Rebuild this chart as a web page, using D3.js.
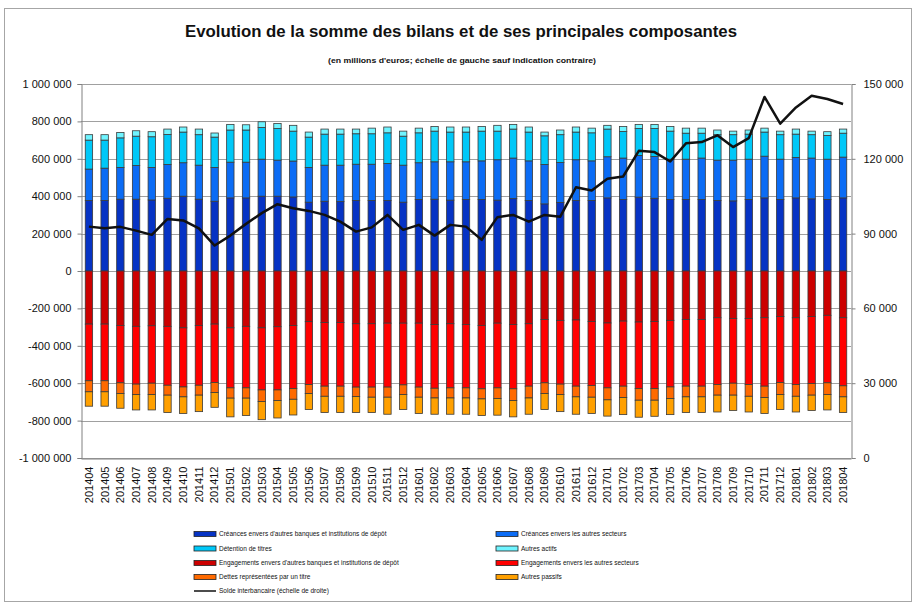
<!DOCTYPE html>
<html>
<head>
<meta charset="utf-8">
<script src="https://cdn.jsdelivr.net/npm/d3@7"></script>
<style>
  body { margin: 0; background: #fff; }
  svg text { font-family: "Liberation Sans", Arial, sans-serif; fill: #111; }
</style>
</head>
<body>
<div id="chart"></div>
<script>
// months 2014-04 .. 2018-04
var months = ["201404","201405","201406","201407","201408","201409","201410","201411","201412",
  "201501","201502","201503","201504","201505","201506","201507","201508","201509","201510","201511","201512",
  "201601","201602","201603","201604","201605","201606","201607","201608","201609","201610","201611","201612",
  "201701","201702","201703","201704","201705","201706","201707","201708","201709","201710","201711","201712",
  "201801","201802","201803","201804"];

// actifs (millions d'euros)
var creancesBanques = [377000,377000,384000,384000,380000,389000,400000,384000,373000,391000,391000,400000,400000,396000,368000,373000,371000,377000,377000,377000,368000,382000,384000,379000,382000,382000,379000,387000,377000,359000,366000,377000,377000,391000,382000,395000,389000,382000,382000,382000,377000,375000,382000,391000,382000,391000,386000,382000,391000];
var creancesSecteurs = [168000,173000,170000,180000,174000,181000,179000,182000,181000,191000,191000,198000,193000,192000,186000,193000,195000,194000,194000,198000,198000,197000,200000,205000,202000,207000,216000,217000,212000,211000,214000,218000,212000,220000,222000,223000,223000,216000,216000,222000,216000,218000,216000,223000,216000,216000,218000,216000,218000];
var detentionTitres = [155000,150000,158000,157000,164000,160000,164000,163000,162000,172000,172000,170000,169000,160000,162000,166000,166000,163000,163000,164000,155000,160000,164000,159000,159000,159000,153000,155000,154000,153000,149000,148000,150000,148000,142000,144000,150000,150000,139000,133000,136000,136000,134000,129000,131000,125000,125000,127000,128000];
var autresActifs = [29000,29000,29000,29000,27000,29000,27000,30000,22000,30000,28000,30000,27000,31000,27000,27000,27000,25000,30000,31000,27000,25000,25000,27000,27000,25000,31000,25000,27000,20000,25000,27000,25000,20000,27000,22000,22000,25000,27000,27000,25000,19000,22000,21000,19000,27000,19000,20000,22000];

// passifs (négatifs)
var engagementsBanques = [-284000,-284000,-291000,-296000,-293000,-296000,-304000,-291000,-284000,-304000,-296000,-304000,-298000,-291000,-271000,-275000,-275000,-282000,-282000,-279000,-279000,-279000,-286000,-282000,-286000,-291000,-279000,-286000,-282000,-259000,-264000,-262000,-270000,-278000,-268000,-273000,-270000,-264000,-259000,-259000,-250000,-254000,-254000,-250000,-243000,-250000,-243000,-237000,-250000];
var engagementsSecteurs = [-303000,-303000,-307000,-309000,-307000,-315000,-316000,-320000,-312000,-321000,-329000,-332000,-338000,-338000,-336000,-341000,-341000,-339000,-339000,-342000,-330000,-342000,-341000,-343000,-339000,-339000,-346000,-344000,-334000,-339000,-341000,-354000,-342000,-347000,-348000,-356000,-359000,-356000,-357000,-357000,-357000,-346000,-353000,-366000,-353000,-357000,-359000,-361000,-364000];
var dettesTitre = [-59000,-59000,-57000,-56000,-61000,-53000,-53000,-53000,-54000,-55000,-55000,-62000,-57000,-57000,-48000,-54000,-54000,-50000,-54000,-54000,-52000,-54000,-52000,-54000,-54000,-54000,-57000,-63000,-63000,-57000,-56000,-57000,-63000,-64000,-61000,-62000,-62000,-62000,-57000,-57000,-57000,-64000,-63000,-61000,-65000,-63000,-62000,-63000,-59000];
var autresPassifs = [-77000,-77000,-79000,-82000,-82000,-93000,-89000,-88000,-79000,-100000,-93000,-97000,-93000,-84000,-86000,-87000,-87000,-86000,-82000,-91000,-80000,-87000,-87000,-87000,-87000,-89000,-89000,-87000,-87000,-86000,-91000,-93000,-87000,-87000,-91000,-91000,-86000,-86000,-84000,-84000,-90000,-82000,-84000,-85000,-80000,-84000,-82000,-82000,-84000];

// solde interbancaire (échelle de droite)
var soldeInterbancaire = [92800,92100,92700,91200,89500,95900,95300,92100,85200,89200,93900,98200,101800,100200,99100,97500,94800,90800,92500,97500,91500,93500,89200,93500,92800,87500,96600,97500,94800,97500,96800,108600,107300,112000,112900,123200,122700,118900,126200,126700,129400,124700,128300,144800,134100,140600,145300,144000,142000];

var leftTicks = [-1000000,-800000,-600000,-400000,-200000,0,200000,400000,600000,800000,1000000];
var rightTicks = [0,30000,60000,90000,120000,150000];

var series = [
  {key: "cb", label: "Créances envers d'autres banques et institutions de dépôt", color: "#0633c4", values: creancesBanques},
  {key: "cs", label: "Créances envers les autres secteurs", color: "#0b6cf5", values: creancesSecteurs},
  {key: "dt", label: "Détention de titres", color: "#00c8f8", values: detentionTitres},
  {key: "aa", label: "Autres actifs", color: "#6ff4ff", values: autresActifs},
  {key: "eb", label: "Engagements envers d'autres banques et institutions de dépôt", color: "#cc0000", values: engagementsBanques},
  {key: "es", label: "Engagements envers les autres secteurs", color: "#ff0000", values: engagementsSecteurs},
  {key: "dr", label: "Dettes représentées par un titre", color: "#ff6a00", values: dettesTitre},
  {key: "ap", label: "Autres passifs", color: "#ffa000", values: autresPassifs}
];

var width = 921, height = 611;
var margin = {top: 84, right: 70, bottom: 153, left: 81};

var svg = d3.select("#chart").append("svg")
  .attr("width", width)
  .attr("height", height);

// cadre
svg.append("rect")
  .attr("x", 4.5).attr("y", 8.5)
  .attr("width", 907).attr("height", 593)
  .attr("fill", "none").attr("stroke", "#a6a6a6");

svg.append("text")
  .attr("x", 461).attr("y", 37)
  .attr("text-anchor", "middle")
  .attr("font-size", 17).attr("font-weight", "bold")
  .attr("textLength", 552).attr("lengthAdjust", "spacingAndGlyphs")
  .text("Evolution de la somme des bilans et de ses principales composantes");

svg.append("text")
  .attr("x", 462).attr("y", 63)
  .attr("text-anchor", "middle")
  .attr("font-size", 8).attr("font-weight", "bold")
  .attr("textLength", 268).attr("lengthAdjust", "spacingAndGlyphs")
  .text("(en millions d'euros; échelle de gauche sauf indication contraire)");

var x = d3.scaleBand()
  .domain(months)
  .range([margin.left, width - margin.right])
  .paddingInner(0.53)
  .paddingOuter(0.27);

var y = d3.scaleLinear()
  .domain([-1000000, 1000000])
  .range([height - margin.bottom, margin.top]);

var y2 = d3.scaleLinear()
  .domain([0, 150000])
  .range([height - margin.bottom, margin.top]);

var fr = d3.formatLocale({decimal: ",", thousands: "\u00a0", grouping: [3], currency: ["", " €"], minus: "-"});
var fmt = fr.format(",d");

// grille
svg.append("g")
  .selectAll("line")
  .data(leftTicks)
  .enter()
  .append("line")
    .attr("x1", margin.left).attr("x2", width - margin.right)
    .attr("y1", function(d) { return Math.round(y(d)) + 0.5; })
    .attr("y2", function(d) { return Math.round(y(d)) + 0.5; })
    .attr("stroke", "#a0a0a0");

// axe de gauche
var yAxis = d3.axisLeft(y).tickValues(leftTicks).tickFormat(fmt).tickSize(4).tickPadding(6);
var gy = svg.append("g")
  .attr("transform", "translate(" + (margin.left + 0.5) + ",0)")
  .call(yAxis);
gy.select(".domain").attr("stroke", "#808080");
gy.selectAll(".tick line").attr("stroke", "#808080");
gy.selectAll("text").attr("font-size", 11).attr("fill", "#222");

// axe de droite
var yAxis2 = d3.axisRight(y2).tickValues(rightTicks).tickFormat(fmt).tickSize(4).tickPadding(8);
var gy2 = svg.append("g")
  .attr("transform", "translate(" + (width - margin.right + 0.5) + ",0)")
  .call(yAxis2);
gy2.select(".domain").attr("stroke", "#808080");
gy2.selectAll(".tick line").attr("stroke", "#808080");
gy2.selectAll("text").attr("font-size", 11).attr("fill", "#222");

// axe des mois
var xAxis = d3.axisBottom(x).tickSize(0).tickPadding(0);
var gx = svg.append("g")
  .attr("transform", "translate(0," + (height - margin.bottom + 0.5) + ")")
  .call(xAxis);
gx.select(".domain").attr("stroke", "#808080");
gx.selectAll("text")
  .attr("font-size", 11)
  .attr("fill", "#222")
  .attr("transform", "rotate(-90)")
  .attr("text-anchor", "end")
  .attr("dy", "0.35em")
  .attr("x", -8)
  .attr("y", 0);

// barres empilées
var table = months.map(function(m, i) {
  var row = {month: m};
  series.forEach(function(s) { row[s.key] = s.values[i]; });
  return row;
});

var stack = d3.stack()
  .keys(series.map(function(s) { return s.key; }))
  .offset(d3.stackOffsetDiverging);

var layers = stack(table);

svg.append("g")
  .selectAll("g")
  .data(layers)
  .enter()
  .append("g")
    .attr("fill", function(d, i) { return series[i].color; })
  .selectAll("rect")
  .data(function(d) { return d; })
  .enter()
  .append("rect")
    .attr("x", function(d) { return x(d.data.month); })
    .attr("width", x.bandwidth())
    .attr("y", function(d) { return y(Math.max(d[0], d[1])); })
    .attr("height", function(d) { return Math.abs(y(d[0]) - y(d[1])); })
    .attr("stroke", "#3a3a3a")
    .attr("stroke-width", 0.8);

// solde interbancaire
var line = d3.line()
  .x(function(d, i) { return x(months[i]) + x.bandwidth() / 2; })
  .y(function(d) { return y2(d); });

svg.append("path")
  .datum(soldeInterbancaire)
  .attr("d", line)
  .attr("fill", "none")
  .attr("stroke", "#111")
  .attr("stroke-width", 2.5)
  .attr("stroke-linejoin", "round");

// légende
var legendCols = [194, 496];
var legendRows = [534, 548.5, 563, 577, 591];
var legend = svg.append("g");

series.forEach(function(s, i) {
  var lx = legendCols[i % 2], ly = legendRows[Math.floor(i / 2)];
  legend.append("rect")
    .attr("x", lx).attr("y", ly - 2.5)
    .attr("width", 22).attr("height", 5)
    .attr("fill", s.color)
    .attr("stroke", "#222").attr("stroke-width", 0.8);
  legend.append("text")
    .attr("x", lx + 25).attr("y", ly)
    .attr("dy", "0.35em")
    .attr("font-size", 6.5)
    .attr("fill", "#333")
    .text(s.label);
});

legend.append("line")
  .attr("x1", legendCols[0]).attr("x2", legendCols[0] + 22)
  .attr("y1", legendRows[4]).attr("y2", legendRows[4])
  .attr("stroke", "#111").attr("stroke-width", 1.5);
legend.append("text")
  .attr("x", legendCols[0] + 25).attr("y", legendRows[4])
  .attr("dy", "0.35em")
  .attr("font-size", 6.5)
  .attr("fill", "#333")
  .text("Solde interbancaire (échelle de droite)");
</script>
</body>
</html>
